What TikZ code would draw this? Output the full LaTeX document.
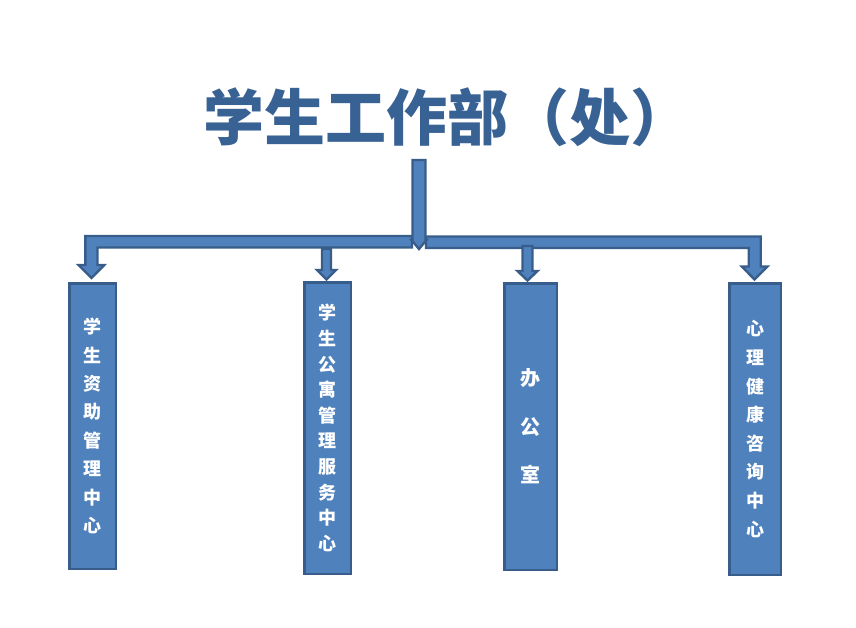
\documentclass[tikz,border=0pt]{standalone}
\usepackage{fontspec}
\usetikzlibrary{calc}
\newfontfamily\cjk{Noto Sans CJK SC}
\definecolor{boxfill}{HTML}{4F81BD}
\definecolor{boxline}{HTML}{385D8A}
\definecolor{titleblue}{RGB}{56,97,148}
\begin{document}
\begin{tikzpicture}[x=1pt,y=-1pt,
  unit/.style={draw=boxline, fill=boxfill, line width=2.5pt, inner sep=0pt,
    text=white, align=center},
  unitfont/.style={font=\cjk\bfseries\fontsize{18}{#1}\selectfont},
  blockarrow/.style={draw=boxline, fill=boxfill, line width=2.4pt, line join=miter},
  titletext/.style={text=titleblue, inner sep=0pt, font=\cjk\bfseries\fontsize{61}{61}\selectfont}]
\useasboundingbox (0,0) rectangle (856,627);

% title
\node[titletext] (title) at (447,117) {学生工作部（处）};

% units
\node[unit, unitfont=28.4, minimum width=46.5pt, minimum height=285.5pt] (b1) at (92.5,426)
  {学\\生\\资\\助\\管\\理\\中\\心};
\node[unit, unitfont=25.6, minimum width=46.5pt, minimum height=291.5pt] (b2) at (327.5,428)
  {学\\生\\公\\寓\\管\\理\\服\\务\\中\\心};
\node[unit, font=\cjk\bfseries\fontsize{20}{48.5}\selectfont, minimum width=52.5pt, minimum height=286.5pt] (b3) at (530.5,426.5)
  {办\\公\\室};
\node[unit, unitfont=28.6, minimum width=51.5pt, minimum height=291.5pt] (b4) at (755,429)
  {心\\理\\健\\康\\咨\\询\\中\\心};

% connector anchor points
\coordinate (top) at (419,160);
\coordinate (t1) at ($(b1.north)+(-1,-4)$);
\coordinate (t2) at ($(b2.north)+(-1,-1.5)$);
\coordinate (t3) at ($(b3.north)+(-3,-1.5)$);
\coordinate (t4) at ($(b4.north)+(-0.5,-2.5)$);

% left bent arrow (to b1)
\draw[blockarrow] (t1) -- ++(-13,-13) -- ++(6.8,0) |- (412,236)
  -- (412,247.5) -- ($(t1)+(6,-30.5)$) -- ($(t1)+(6,-13)$) -- ++(6.8,0) -- cycle;
% right bent arrow (to b4)
\draw[blockarrow] (t4) -- ++(13,-13) -- ++(-6.8,0) |- (426,236.5)
  -- (426,248) -- ($(t4)+(-5.8,-31.5)$) -- ($(t4)+(-5.8,-13)$) -- ++(-6.8,0) -- cycle;

% small arrows (to b2, b3)
\draw[blockarrow] (t2) -- ++(-9.5,-9.5) -- ++(5,0) -- ++(0,-21) -- ++(9,0)
  -- ++(0,21) -- ++(5,0) -- cycle;
\draw[blockarrow] (t3) -- ++(-10,-9.5) -- ++(5,0) -- ++(0,-25) -- ++(10,0)
  -- ++(0,25) -- ++(5,0) -- cycle;

% main down arrow from title
\draw[blockarrow] ($(top)+(-6.5,0)$) -- ++(13,0) -- ++(0,80) -- ++(1,0)
  -- (419,249) -- ($(top)+(-7.5,80)$) -- ++(1,0) -- cycle;
\end{tikzpicture}
\end{document}
